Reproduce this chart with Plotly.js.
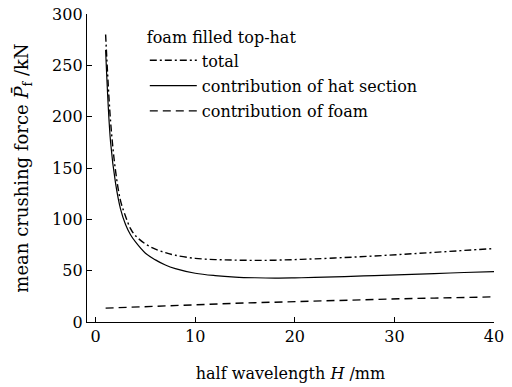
<!DOCTYPE html>
<html>
<head>
<meta charset="utf-8">
<script src="https://cdn.plot.ly/plotly-3.0.1.min.js"></script>
<style>html,body{margin:0;padding:0;background:#fff}#chart{width:512px;height:387px}</style>
</head>
<body>
<div id="chart"></div>
<script>
const halfWavelength = [1, 1.5, 2, 2.5, 3, 3.5, 4, 5, 6, 7, 8, 10, 12, 14, 16, 18, 20, 22, 25, 28, 31, 34, 37, 40];
const totalForce =     [280, 195, 147, 118, 103, 91, 84, 76, 71, 67.5, 65, 62, 60.8, 60.3, 60, 60.2, 60.8, 61.5, 62.8, 64.3, 66, 67.8, 69.7, 71.5];
const hatForce =       [265, 175, 135, 110, 95, 85, 78, 67, 60.5, 55.5, 52, 47.5, 45.2, 43.8, 43.1, 42.8, 43, 43.4, 44.2, 45.2, 46.2, 47.2, 48.2, 49];
const foamForce =      [13.5, 13.7, 13.9, 14.1, 14.3, 14.5, 14.7, 15.1, 15.5, 15.9, 16.3, 17, 17.6, 18.2, 18.8, 19.4, 20, 20.5, 21.3, 22, 22.7, 23.3, 23.9, 24.5];
const seriesNames = ['total', 'contribution of hat section', 'contribution of foam'];
const xTicks = [0, 10, 20, 30, 40];
const yTicks = [0, 50, 100, 150, 200, 250, 300];

const FAMILY = 'DejaVu Serif, serif';
function mkFont(size) { return {family: FAMILY, size: size || 16, color: '#000'}; }
const traces = [
  {x: halfWavelength, y: totalForce, name: seriesNames[0], legendgroup: 'g1', mode: 'lines', line: {color: '#000', width: 1.4, dash: '7px,3px,2px,3px', shape: 'spline'}},
  {x: halfWavelength, y: hatForce, name: seriesNames[1], legendgroup: 'g2', mode: 'lines', line: {color: '#000', width: 1.2, shape: 'spline'}},
  {x: halfWavelength, y: foamForce, name: seriesNames[2], legendgroup: 'g3', mode: 'lines', line: {color: '#000', width: 1.4, dash: '8px,5px'}}
];
const layout = {
  width: 512, height: 387,
  margin: {l: 87, r: 18, t: 14, b: 65},
  paper_bgcolor: '#fff', plot_bgcolor: '#fff',
  font: mkFont(16),
  showlegend: true,
  legend: {
    x: 0.142, y: 0.972, xanchor: 'left', yanchor: 'top',
    bgcolor: 'rgba(0,0,0,0)', borderwidth: 0,
    title: {text: 'foam filled top-hat', font: mkFont(16)},
    font: mkFont(16), tracegroupgap: 1.5, itemwidth: 47
  },
  xaxis: {
    range: [-0.87, 40], tickvals: xTicks, ticktext: xTicks.map(String),
    ticks: 'inside', ticklen: 5, tickwidth: 1, tickcolor: '#000',
    tickfont: mkFont(16),
    showline: true, linecolor: '#000', linewidth: 1.2, mirror: false,
    showgrid: false, zeroline: false,
    title: {text: 'half wavelength <i>H</i> /mm', font: mkFont(16), standoff: 22}
  },
  yaxis: {
    range: [0, 300], tickvals: yTicks, ticktext: yTicks.map(String),
    ticks: 'inside', ticklen: 5, tickwidth: 1, tickcolor: '#000',
    tickfont: mkFont(16),
    showline: true, linecolor: '#000', linewidth: 1.2, mirror: false,
    showgrid: false, zeroline: false,
    title: {text: 'mean crushing force <i>P\u0304</i><sub>f</sub> /kN', font: mkFont(18), standoff: 18}
  }
};
Plotly.newPlot('chart', traces, layout, {displayModeBar: false, staticPlot: true});
</script>
</body>
</html>
